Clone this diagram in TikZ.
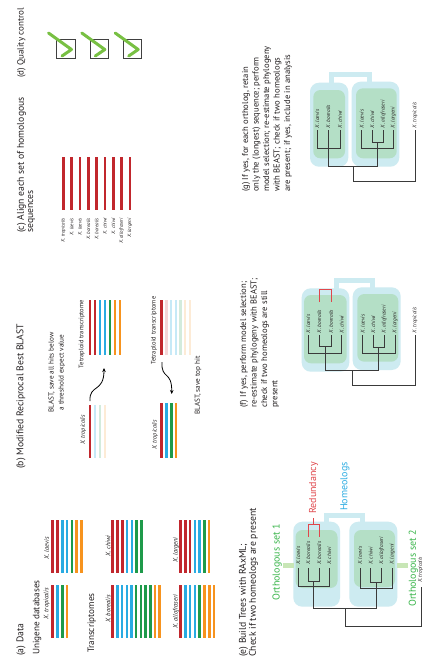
\documentclass[tikz,border=0pt]{standalone}
\usepackage{fontspec}
\setmainfont{PT Sans}
\usetikzlibrary{arrows.meta}
\definecolor{cR}{HTML}{C1272D}
\definecolor{cB}{HTML}{29ABE2}
\definecolor{cG}{HTML}{1E9A4A}
\definecolor{cO}{HTML}{F7931E}
\definecolor{cRl}{HTML}{F5D6D7}
\definecolor{cBl}{HTML}{C6E9F7}
\definecolor{cGl}{HTML}{D3EBDC}
\definecolor{cOl}{HTML}{FDEBD6}
\definecolor{boxblue}{HTML}{CDEBF1}
\definecolor{boxgreen}{HTML}{B4DFC6}
\definecolor{redbr}{HTML}{E0474C}
\definecolor{homeo}{HTML}{29ABE2}
\definecolor{ortho}{HTML}{39B54A}
\definecolor{band}{HTML}{C8E6B6}
\definecolor{chkgreen}{HTML}{78C043}
\definecolor{treegray}{HTML}{3A3A3A}
\definecolor{txt}{HTML}{231F20}
\newcommand{\mybars}[5]{%
  \foreach \bcol [count=\bidx from 0] in {#5} {\draw[bar,\bcol] ({#1+\bidx*#2},#3) -- ({#1+\bidx*#2},#4);}}
\tikzset{
  ttl/.style={rotate=90, anchor=west, inner sep=0pt, text=txt, font=\fontsize{9.7}{11}\selectfont},
  ttls/.style={ttl, font=\fontsize{8.6}{10}\selectfont},
  sub/.style={rotate=90, anchor=west, inner sep=0pt, text=txt, font=\fontsize{9.2}{10}\selectfont},
  sp/.style={rotate=90, inner sep=0pt, text=txt, font=\fontsize{5.4}{6}\selectfont\itshape},
  spa/.style={rotate=90, inner sep=0pt, text=txt, font=\fontsize{6.5}{7}\selectfont\itshape},
  small/.style={rotate=90, inner sep=0pt, text=txt, font=\fontsize{6.5}{7}\selectfont},
  note/.style={rotate=90, inner sep=0pt, text=txt, align=center, font=\fontsize{7.2}{10}\selectfont},
  bar/.style={line width=2.5pt},
  tl/.style={draw=treegray, line width=0.9pt},
  obox/.style={fill=boxblue, rounded corners=9pt},
  ibox/.style={fill=boxgreen, rounded corners=7pt},
  hbr/.style={draw=boxblue, line width=5pt},
  rbr/.style={draw=redbr, line width=1pt},
  gband/.style={draw=band, line width=5pt},
  chk/.style={draw=chkgreen, line width=3pt, line cap=round, line join=round},
  cbox/.style={draw=black!75, line width=0.8pt},
  arr/.style={draw=black, line width=0.8pt, -{Stealth[length=4pt,width=3.5pt]}},
  lbl/.style={ttl, font=\fontsize{10}{11}\selectfont},
}
\begin{document}
\begin{tikzpicture}[x=1pt,y=-1pt]
\useasboundingbox (0,0) rectangle (425,657);
\fill[white] (0,0) rectangle (425,657);

% ---------- (a) Data ----------
\node[ttl] (ta) at (21,656) {(a) Data};
\node[sub] (tuni) at (37,655) {Unigene databases};
\node[spa] (atrop) at (46.7,603.5) {X. tropicalis};
\mybars{52.7}{4.8}{585}{638}{cR,cB,cG,cO}
\node[spa] (alae) at (46.7,548) {X. laevis};
\mybars{52.7}{4.8}{520}{573}{cR,cR,cB,cB,cG,cO,cO}
\node[sub] (ttr) at (91.7,653) {Transcriptomes};
\node[spa] (abor) at (108,609) {X. borealis};
\mybars{112.7}{4.7}{585}{638}{cR,cB,cB,cB,cB,cG,cG,cG,cG,cO,cO}
\node[spa] (achi) at (108,546) {X. chiwi};
\mybars{112.7}{4.8}{520}{573}{cR,cR,cR,cB,cB,cG,cG}
\node[spa] (aall) at (176,611.5) {X. allofraseri};
\mybars{180.7}{4.76}{585}{638}{cR,cB,cB,cB,cG,cO,cO,cO}
\node[spa] (alar) at (176,550) {X. largeni};
\mybars{180.7}{4.75}{520}{573}{cR,cR,cR,cB,cB,cG,cO}

% ---------- (b) Modified Reciprocal Best BLAST ----------
\node[ttl] (tb) at (21,469) {(b) Modified Reciprocal Best BLAST};
\node[note] (bn1) at (56.7,372.5) {BLAST, save all hits below\\a threshold expect value};
\node[small,font=\fontsize{6.2}{7}\selectfont\itshape] (btrop1) at (83.3,430) {X. tropicalis};
\mybars{90}{5}{405}{458}{cR,cBl,cGl,cOl}
\node[small] (btet1) at (81.7,334) {Tetraploid transcriptome};
\mybars{90}{5}{300}{355}{cR,cR,cB,cB,cG,cO,cO}
\coordinate (a1s) at (90,401);
\coordinate (a1e) at (104,368);
\draw[arr] (a1s) .. controls (89,384) and (104,393) .. (a1e);
\node[small] (btet2) at (154,330.5) {Tetraploid transcriptome};
\mybars{161.7}{4.7}{300}{355}{cR,cRl,cBl,cBl,cGl,cOl,cOl}
\coordinate (a2s) at (162,362);
\coordinate (a2e) at (171.7,394);
\draw[arr] (a2s) .. controls (161,380) and (172,370) .. (a2e);
\node[small,font=\fontsize{6.2}{7}\selectfont\itshape] (btrop2) at (155,435) {X. tropicalis};
\mybars{161.7}{4.8}{403}{458}{cR,cB,cG,cO}
\node[note] (bn2) at (198,385.5) {BLAST, save top hit};

% ---------- (c) Align ----------
\node[ttl] (tc1) at (21.5,233) {(c) Align each set of homologous};
\node[ttl] (tc2) at (31.5,233) {sequences};
\mybars{63.3}{8.33}{157}{210}{cR,cR,cR,cR,cR,cR,cR,cR,cR}
\foreach \lab [count=\k from 0] in {X. tropicalis,X. laevis,X. laevis,X. borealis,X. borealis,X. chiwi,X. chiwi,X. allofraseri,X. largeni}
  \node[sp, anchor=east, font=\fontsize{5}{5.5}\selectfont\itshape] (cl\k) at ({63.3+\k*8.33},218) {\lab};

% ---------- (d) Quality control ----------
\node[ttl, font=\fontsize{9}{11}\selectfont] (td) at (21.5,78) {(d) Quality control};
\foreach \dx [count=\k] in {0,33.3,66.7} {
  \draw[cbox] ({56.7+\dx},39) rectangle ({75+\dx},58);
  \draw[chk] ({48.5+\dx},33) -- ({71.5+\dx},49.5) -- ({62+\dx},56);
}

% ---------- (e) Build trees ----------
\node[ttl] (te1) at (243.5,657) {(e) Build Trees with RAxML;};
\node[ttl] (te2) at (253.5,657) {Check if two homeologs are present};
\draw[hbr] (326,524) -- (326,515) -- (362.5,515) -- (362.5,524);
\fill[obox] (293.3,521.7) rectangle (340,606.7);
\fill[obox] (349.3,521.7) rectangle (397.3,606.7);
\fill[ibox] (295.5,530) rectangle (337.5,588);
\fill[ibox] (354,530) rectangle (395,587);
\draw[gband] (283,565) -- (293.5,565);
\draw[gband] (397,565) -- (408,565);
\node[lbl, text=ortho] (os1) at (277,601) {Orthologous set 1};
\node[lbl, text=ortho] (os2) at (413.3,607) {Orthologous set 2};
\node[lbl, text=redbr] (red) at (313.5,514) {Redundancy};
\node[lbl, text=homeo] (hom) at (345,511) {Homeologs};
\foreach \lab/\xx [count=\k] in {X. laevis/298.3,X. borealis/308.3,X. borealis/319.3,X. chiwi/329.3,X. laevis/360,X. chiwi/370.7,X. allofraseri/381.7,X. largeni/392.3}
  \node[sp, anchor=west] (e\k) at (\xx,565) {\lab};
\node[sp, anchor=west] (etrop) at (420.5,583) {X. tropicalis};
\draw[rbr] (308.3,536.7) -- (308.3,524.3) -- (319.3,524.3) -- (319.3,536.7);
\draw[rbr] (313.8,524.3) -- (313.8,518);
\draw[tl] (298.3,568.3) -- (298.3,586.7) -- (329.3,586.7) -- (329.3,568.3);
\draw[tl] (308.3,568.3) -- (308.3,581.7) -- (319.3,581.7) -- (319.3,568.3);
\draw[tl] (313.8,581.7) -- (313.8,608.3) -- (376.2,608.3) -- (376.2,582);
\draw[tl] (360,568.3) -- (360,588) -- (392.3,588) -- (392.3,568.3);
\draw[tl] (370.7,568.3) -- (370.7,582) -- (381.7,582) -- (381.7,568.3);
\draw[tl] (345,608.3) -- (345,626.7) -- (421,626.7) -- (421,586.7);

% ---------- (f) ----------
\node[ttls] (tf1) at (244,408) {(f) If yes, perform model selection;};
\node[ttls] (tf2) at (254.5,408) {re-estimate phylogeny with BEAST;};
\node[ttls] (tf3) at (265,408) {check if two homeologs are still};
\node[ttls] (tf4) at (275.5,408) {present};
\draw[hbr] (336,290) -- (336,280) -- (372,280) -- (372,290);
\fill[obox] (301.7,288.3) rectangle (349.3,371.7);
\fill[obox] (352.7,287.3) rectangle (400.7,370);
\fill[ibox] (304,295) rectangle (346.7,363.3);
\fill[ibox] (357.3,294) rectangle (398.3,361.7);
\foreach \lab/\xx [count=\k] in {X. laevis/308.3,X. borealis/319.3,X. borealis/331,X. chiwi/341.7,X. laevis/362.7,X. chiwi/373.3,X. allofraseri/384.3,X. largeni/395}
  \node[sp, anchor=west] (f\k) at (\xx,333.3) {\lab};
\node[sp, anchor=west] (ftrop) at (415,333.3) {X. tropicalis};
\draw[rbr] (319.3,302) -- (319.3,289.5) -- (331,289.5) -- (331,302);
\draw[tl] (308.3,335) -- (308.3,353.3) -- (341.7,353.3) -- (341.7,335);
\draw[tl] (319.3,335) -- (319.3,346.7) -- (331,346.7) -- (331,335);
\draw[tl] (325.2,346.7) -- (325.2,370) -- (378.8,370) -- (378.8,347);
\draw[tl] (362.7,335) -- (362.7,353.3) -- (395,353.3) -- (395,335);
\draw[tl] (373.3,335) -- (373.3,347) -- (384.3,347) -- (384.3,335);
\draw[tl] (352,370) -- (352,385) -- (415,385) -- (415,335);

% ---------- (g) ----------
\node[ttls] (tg1) at (246,192) {(g) If yes, for each ortholog, retain};
\node[ttls] (tg2) at (256.5,192) {only the (longest) sequence; perform};
\node[ttls] (tg3) at (267,192) {model selection; re-estimate phylogeny};
\node[ttls] (tg4) at (277.5,192) {with BEAST; check if two homeologs};
\node[ttls] (tg5) at (288,192) {are present; if yes, include in analysis};
\draw[hbr] (331.5,84) -- (331.5,74) -- (369.5,74) -- (369.5,84);
\fill[obox] (310,82.7) rectangle (348.3,166.7);
\fill[obox] (351.7,81.7) rectangle (399.3,166.7);
\fill[ibox] (313.3,90) rectangle (345,158.3);
\fill[ibox] (356,88.3) rectangle (396.7,158.3);
\foreach \lab/\xx [count=\k] in {X. laevis/317.3,X. borealis/328.3,X. chiwi/340,X. laevis/361.7,X. chiwi/372.3,X. allofraseri/383.3,X. largeni/393.3}
  \node[sp, anchor=west] (g\k) at (\xx,128.3) {\lab};
\node[sp, anchor=west] (gtrop) at (415,128.3) {X. tropicalis};
\draw[tl] (317.3,130) -- (317.3,148.3) -- (340,148.3) -- (340,130);
\draw[tl] (328.3,130) -- (328.3,166.7) -- (377.8,166.7) -- (377.8,142);
\draw[tl] (361.7,130) -- (361.7,148.3) -- (393.3,148.3) -- (393.3,130);
\draw[tl] (372.3,130) -- (372.3,142) -- (383.3,142) -- (383.3,130);
\draw[tl] (353,166.7) -- (353,181.7) -- (415,181.7) -- (415,130);
\end{tikzpicture}
\end{document}
